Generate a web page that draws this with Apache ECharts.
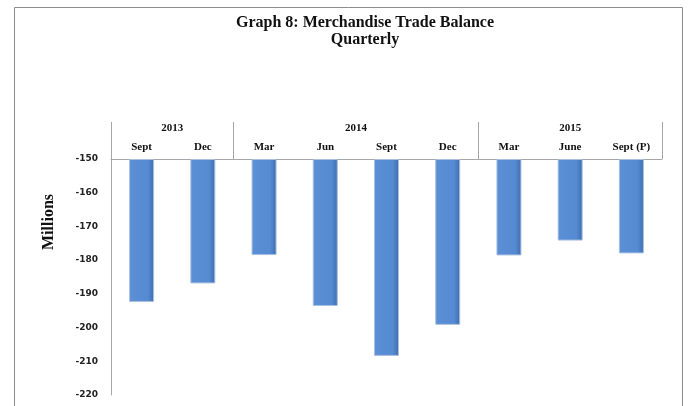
<!DOCTYPE html>
<html>
<head>
<meta charset="utf-8">
<script src="https://cdn.jsdelivr.net/npm/echarts@6/dist/echarts.min.js"></script>
<style>
  html, body { margin: 0; padding: 0; background: #fff; }
  #chart { width: 689px; height: 406px; }
</style>
</head>
<body>
<div id="chart"></div>
<script>
// quarters and the year they belong to
const months = ['Sept', 'Dec', 'Mar', 'Jun', 'Sept', 'Dec', 'Mar', 'June', 'Sept (P)'];
const years = ['2013', '2014', '2015'];
const yearSpans = [2, 4, 3];
// trade balance, millions
const balance = [-192.4, -186.9, -178.5, -193.6, -208.4, -199.2, -178.6, -174.2, -178.0];
const yTicks = [-220, -210, -200, -190, -180, -170, -160, -150];

const axisMin = yTicks[0];
const axisMax = yTicks[yTicks.length - 1];

// year row: half-category points, label in the middle of each span, ticks at the edges
let yearPoints = [];
let yearEdges = [0];
let pos = 0;
for (let i = 0; i <= months.length * 2; i++) yearPoints.push('');
years.forEach(function (y, i) {
  yearPoints[pos + yearSpans[i]] = y;
  pos += yearSpans[i] * 2;
  yearEdges.push(pos);
});

const base = balance.map(function () { return axisMax; });
const depth = balance.map(function (v) { return +(v - axisMax).toFixed(1); });

const gray = '#a6a6a6';
const serif = 'Liberation Serif';

let chart = echarts.init(document.getElementById('chart'));
let option = {
  animation: false,
  title: {
    text: 'Graph 8: Merchandise Trade Balance\nQuarterly',
    left: 360,
    top: 9,
    textAlign: 'center',
    textStyle: {
      fontFamily: serif,
      fontWeight: 'bold',
      fontSize: 16,
      lineHeight: 17,
      color: '#111'
    }
  },
  graphic: [{
    type: 'rect',
    shape: { x: 14.5, y: 7.5, width: 668, height: 420 },
    style: { fill: 'none', stroke: '#8c8c8c', lineWidth: 1 }
  }, {
    type: 'text',
    x: 49,
    y: 222,
    rotation: Math.PI / 2,
    style: {
      text: 'Millions',
      fontFamily: serif,
      fontWeight: 'bold',
      fontSize: 16,
      fill: '#111',
      align: 'center',
      verticalAlign: 'middle'
    }
  }],
  grid: {
    left: 111,
    right: 27,
    top: 159,
    bottom: 11
  },
  xAxis: [{
    type: 'category',
    position: 'top',
    data: months,
    axisLine: { show: true, lineStyle: { color: gray } },
    axisTick: { show: false },
    axisLabel: {
      interval: 0,
      margin: 6,
      fontFamily: serif,
      fontWeight: 'bold',
      fontSize: 11,
      color: '#111'
    }
  }, {
    type: 'category',
    position: 'top',
    boundaryGap: false,
    data: yearPoints,
    axisLine: { show: false },
    axisTick: {
      show: true,
      length: 37,
      interval: function (index) { return yearEdges.indexOf(index) >= 0; },
      lineStyle: { color: gray }
    },
    axisLabel: {
      interval: 0,
      margin: 25,
      fontFamily: serif,
      fontWeight: 'bold',
      fontSize: 11,
      color: '#111'
    }
  }],
  yAxis: {
    type: 'value',
    min: axisMin,
    max: axisMax,
    interval: 10,
    axisLine: { show: true, lineStyle: { color: gray } },
    axisTick: { show: false },
    splitLine: { show: false },
    axisLabel: {
      margin: 13,
      fontFamily: 'DejaVu Sans',
      fontWeight: 'bold',
      fontSize: 9,
      color: '#222'
    }
  },
  series: [{
    type: 'bar',
    stack: 'tb',
    barWidth: 25,
    data: base,
    itemStyle: { color: 'transparent' },
    silent: true
  }, {
    type: 'bar',
    stack: 'tb',
    barWidth: 25,
    data: depth,
    itemStyle: {
      color: {
        type: 'linear', x: 0, y: 0, x2: 1, y2: 0,
        colorStops: [
          { offset: 0, color: '#5b8fd6' },
          { offset: 0.75, color: '#558bd2' },
          { offset: 1, color: '#3f6cad' }
        ]
      },
      borderColor: '#a9c0e0',
      borderWidth: 1
    }
  }]
};
chart.setOption(option);
</script>
</body>
</html>
